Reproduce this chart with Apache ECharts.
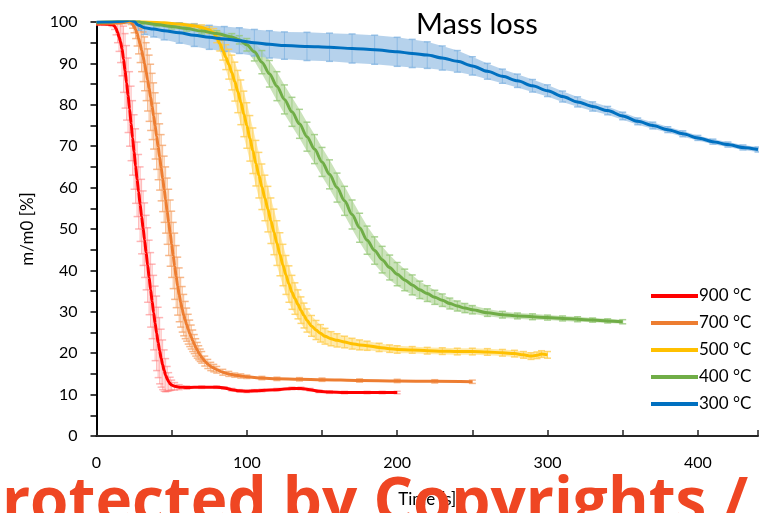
<!DOCTYPE html>
<html>
<head>
<meta charset="utf-8">
<script src="https://cdn.jsdelivr.net/npm/echarts@6/dist/echarts.min.js"></script>
<style>
  html, body { margin: 0; padding: 0; background: #ffffff; }
  #chart { width: 761px; height: 513px; }
</style>
</head>
<body>
<div id="chart"></div>
<script>
// Each entry: [time in s, m/m0 in %, standard deviation in %]
const run900 = [[0,99.5,0.3],[5,99.5,0.3],[10,99.4,0.3],[11,99.3,0.4],[12,99.0,0.8],[13,98.4,1.5],[14,97.5,2.5],[15,96.4,3.5],[16,95.2,5],[17,93.5,6.5],[18,91.0,8],[19,88.2,9],[20,85.3,9],[21,82.3,9],[22,79.0,9],[23,75.5,9],[24,72.0,9],[25,68.6,9],[26,65.2,9],[27,62.0,9],[28,59.0,9],[29,56.0,9],[30,53.0,9],[31,50.2,9],[32,47.3,9],[33,44.3,9],[34,41.3,9],[35,38.3,9],[36,35.3,9],[37,32.5,9],[38,29.8,9],[39,27.2,9],[40,24.8,9],[41,22.6,8.5],[42,20.6,8],[43,18.8,7],[44,17.2,6],[45,15.8,5],[46,14.7,4],[47,13.8,3],[48,13.1,2.2],[49,12.6,1.6],[50,12.3,1.2],[52,12.0,0.9],[55,11.8,0.6],[60,11.7,0.4],[70,11.8,0.3],[80,11.8,0.3],[85,11.6,0.3],[90,11.2,0.3],[95,10.9,0.3],[100,10.8,0.3],[105,10.9,0.3],[110,11.0,0.3],[120,11.2,0.3],[130,11.5,0.3],[136,11.5,0.3],[142,11.2,0.3],[148,10.8,0.3],[155,10.6,0.3],[165,10.5,0.3],[180,10.5,0.3],[190,10.5,0.3],[200,10.5,0.3]];

const run700 = [[0,99.7,0.3],[5,99.7,0.3],[10,99.7,0.3],[15,99.8,0.3],[18,99.9,0.3],[20,100.1,0.3],[22,100.1,0.4],[23,99.9,0.5],[24,99.5,1],[25,98.9,1.5],[26,98.2,2.2],[27,97.2,3],[28,96.0,3.7],[29,94.7,4.5],[30,93.2,5.2],[31,91.6,6],[32,89.9,6.5],[33,88.0,7],[34,86.0,7.5],[35,84.0,8],[36,81.8,8],[37,79.6,8],[38,77.3,8],[39,74.9,8],[40,72.4,8],[41,69.9,8],[42,67.4,8],[43,64.8,8],[44,62.2,8],[45,59.6,8],[46,57.0,8],[47,54.3,8],[48,51.6,8],[49,49.0,8],[50,46.3,8],[51,43.6,8],[52,41.0,8],[53,38.5,7.5],[54,36.2,7],[55,34.1,6.5],[56,32.3,6],[57,30.6,5.5],[58,29.2,5],[59,28.0,4.5],[60,26.9,4],[61,25.8,3.6],[62,24.8,3.2],[63,23.9,2.9],[64,23.0,2.6],[65,22.2,2.3],[66,21.4,2.1],[67,20.7,1.9],[68,20.1,1.7],[69,19.5,1.5],[70,19.0,1.4],[72,18.1,1.2],[74,17.4,1.1],[76,16.8,1.0],[78,16.4,0.9],[80,16.0,0.8],[84,15.4,0.7],[88,15.0,0.6],[92,14.7,0.5],[96,14.5,0.5],[100,14.3,0.4],[110,14.0,0.4],[120,13.8,0.4],[135,13.7,0.4],[150,13.6,0.4],[175,13.4,0.4],[200,13.3,0.4],[225,13.2,0.4],[250,13.1,0.4]];

const run500 = [[0,99.9,0.3],[10,100.0,0.3],[20,100.3,0.3],[25,100.2,0.3],[35,100.0,0.4],[45,99.8,0.4],[55,99.5,0.5],[65,99.1,0.5],[70,98.7,0.6],[75,98.1,0.8],[78,97.4,1.0],[80,96.3,1.3],[82,94.8,1.8],[84,93.2,2.4],[86,91.5,3],[88,89.8,3.6],[90,87.8,4.2],[92,85.6,4.7],[94,83.2,5.1],[96,80.6,5.4],[98,77.8,5.5],[100,75.0,5.5],[102,71.9,5.5],[104,68.9,5.5],[106,65.9,5.5],[108,63.0,5.5],[110,60.2,5.5],[112,57.5,5.5],[114,54.8,5.5],[116,52.0,5.5],[118,49.3,5.5],[120,46.6,5.4],[122,43.9,5.2],[124,41.3,5.0],[126,38.9,4.7],[128,36.7,4.4],[130,34.7,4.1],[132,33.2,3.8],[134,31.8,3.5],[136,30.4,3.2],[138,29.1,3.0],[140,27.9,2.8],[143,26.6,2.5],[146,25.6,2.3],[149,24.8,2.1],[152,24.1,1.9],[156,23.5,1.7],[160,23.1,1.6],[165,22.7,1.4],[170,22.3,1.3],[175,22.0,1.2],[180,21.8,1.1],[188,21.4,1.0],[195,21.1,0.9],[200,20.9,0.9],[210,20.8,0.8],[220,20.6,0.8],[230,20.5,0.8],[240,20.4,0.8],[250,20.4,0.8],[260,20.3,0.8],[270,20.1,0.8],[278,19.9,0.8],[284,19.6,0.8],[289,19.3,0.8],[293,19.5,0.8],[296,19.8,0.8],[300,19.6,0.8]];

const run400 = [[0,99.9,0.4],[10,100.1,0.4],[18,100.4,0.4],[22,100.7,0.4],[26,100.5,0.4],[30,99.9,0.5],[40,99.4,0.5],[50,98.9,0.6],[60,98.4,0.6],[70,97.8,0.7],[80,97.2,0.7],[90,96.4,0.8],[95,95.7,1.0],[100,94.5,1.5],[105,92.8,2.2],[110,90.3,2.8],[115,87.5,3.2],[120,84.5,3.5],[125,81.3,3.5],[130,78.3,3.5],[135,75.4,3.5],[140,72.3,3.5],[145,69.3,3.5],[150,66.2,3.5],[155,63.2,3.5],[160,60.0,3.5],[165,56.8,3.5],[170,53.5,3.5],[175,50.3,3.5],[180,47.3,3.4],[185,44.8,3.3],[190,42.6,3.2],[195,40.7,3.0],[200,39.1,2.8],[205,37.7,2.6],[210,36.5,2.4],[215,35.3,2.1],[220,34.4,1.9],[225,33.5,1.7],[230,32.8,1.5],[235,32.0,1.3],[240,31.4,1.2],[245,30.9,1.1],[250,30.5,1.0],[260,29.8,0.9],[270,29.3,0.8],[280,29.0,0.7],[290,28.8,0.7],[300,28.6,0.6],[310,28.4,0.6],[320,28.2,0.6],[330,28.0,0.5],[340,27.8,0.5],[350,27.6,0.5]];

const run300 = [[0,100.0,0.3],[10,100.0,0.3],[18,100.2,0.4],[22,100.4,0.6],[25,100.1,0.8],[28,99.2,1.2],[32,98.6,1.6],[38,98.3,1.9],[45,97.9,2.2],[55,97.4,2.5],[65,96.8,2.7],[75,96.3,2.9],[85,95.9,3.0],[95,95.5,3.1],[105,95.0,3.2],[115,94.6,3.3],[125,94.3,3.3],[140,94.1,3.4],[155,93.9,3.4],[170,93.6,3.5],[185,93.3,3.5],[200,92.8,3.5],[210,92.4,3.4],[220,92.0,3.2],[230,91.3,2.9],[240,90.5,2.6],[250,89.4,2.2],[260,88.1,1.9],[270,86.9,1.7],[280,85.8,1.6],[290,84.6,1.5],[300,83.4,1.4],[310,82.0,1.3],[320,80.7,1.2],[330,79.6,1.1],[340,78.6,1.0],[350,77.3,0.9],[360,76.0,0.8],[370,75.0,0.8],[380,74.0,0.7],[390,73.0,0.7],[400,72.0,0.6],[410,71.1,0.6],[420,70.4,0.6],[430,69.7,0.6],[440,69.2,0.6]];

const seriesNames = ['900 °C', '700 °C', '500 °C', '400 °C', '300 °C'];
const xTicks = [0, 100, 200, 300, 400];

// Drawing styles per run: line colour, error-bar colour, band fill (null = bars only)
const runs = [
  { name: seriesNames[0], data: run900, line: '#FF0000', bar: 'rgba(255,120,120,0.55)', band: null },
  { name: seriesNames[1], data: run700, line: '#ED7D31', bar: 'rgba(244,160,100,0.75)', band: null },
  { name: seriesNames[2], data: run500, line: '#FFC000', bar: 'rgba(255,205,80,0.8)', band: 'rgba(255,217,102,0.55)' },
  { name: seriesNames[3], data: run400, line: '#70AD47', bar: 'rgba(150,200,120,0.8)', band: 'rgba(169,209,142,0.6)' },
  { name: seriesNames[4], data: run300, line: '#0070C0', bar: 'rgba(130,180,225,0.8)', band: 'rgba(157,195,230,0.75)' }
];

const FONT = 'Lato, "Open Sans", sans-serif';

// Shaded spread between m - sd and m + sd, drawn once per run
function bandSeries(run) {
  return {
    type: 'custom',
    silent: true,
    clip: true,
    z: 1,
    data: run.data,
    encode: { x: 0, y: 1 },
    renderItem: function (params, api) {
      if (params.dataIndex !== 0) return null;
      const upper = run.data.map(d => api.coord([d[0], d[1] + d[2]]));
      const lower = run.data.map(d => api.coord([d[0], d[1] - d[2]])).reverse();
      return {
        type: 'polygon',
        shape: { points: upper.concat(lower) },
        style: { fill: run.band }
      };
    }
  };
}

// Capped vertical error bars at every measurement
function errorBarSeries(run) {
  return {
    type: 'custom',
    silent: true,
    clip: true,
    z: 2,
    data: run.data,
    encode: { x: 0, y: 1 },
    renderItem: function (params, api) {
      const t = api.value(0), m = api.value(1), s = api.value(2);
      const hi = api.coord([t, m + s]);
      const lo = api.coord([t, m - s]);
      const half = 3.5;
      return {
        type: 'group',
        children: [
          { type: 'line', shape: { x1: hi[0], y1: hi[1], x2: lo[0], y2: lo[1] },
            style: { stroke: run.bar, lineWidth: 1 } },
          { type: 'line', shape: { x1: hi[0] - half, y1: hi[1], x2: hi[0] + half, y2: hi[1] },
            style: { stroke: run.bar, lineWidth: 1.5 } },
          { type: 'line', shape: { x1: lo[0] - half, y1: lo[1], x2: lo[0] + half, y2: lo[1] },
            style: { stroke: run.bar, lineWidth: 1.5 } }
        ]
      };
    }
  };
}

function lineSeries(run, idx) {
  return {
    type: 'line',
    name: run.name,
    data: run.data.map(d => [d[0], d[1]]),
    showSymbol: false,
    smooth: 0.3,
    smoothMonotone: 'x',
    z: 3 + idx,
    color: run.line,
    lineStyle: { color: run.line, width: 3 },
    emphasis: { disabled: true }
  };
}

const series = [];
runs.forEach(r => { if (r.band) series.push(bandSeries(r)); });
runs.forEach(r => series.push(errorBarSeries(r)));
runs.forEach((r, i) => series.push(lineSeries(r, i)));

const chart = echarts.init(document.getElementById('chart'), null, { renderer: 'canvas' });
chart.setOption({
  animation: false,
  backgroundColor: '#ffffff',
  title: {
    text: 'Mass loss',
    left: 472,
    top: 5,
    textAlign: 'center',
    textStyle: { fontFamily: FONT, fontSize: 29, fontWeight: 'normal', color: '#000000' }
  },
  legend: {
    orient: 'vertical',
    left: 646,
    top: 282,
    data: seriesNames,
    icon: 'rect',
    itemWidth: 47,
    itemHeight: 4,
    itemGap: 9,
    textStyle: { fontFamily: FONT, fontSize: 17, color: '#000000', lineHeight: 18, padding: [0, 0, 0, -4] },
    selectedMode: false
  },
  grid: { left: 96.5, right: 0, top: 22, bottom: 77, containLabel: false },
  xAxis: {
    type: 'value',
    min: 0,
    max: 440,
    interval: 50,
    name: 'Time [s]',
    nameLocation: 'middle',
    nameGap: 55,
    nameTextStyle: { fontFamily: FONT, fontSize: 17, color: '#000000' },
    axisLine: { show: true, lineStyle: { color: '#262626', width: 2 } },
    axisTick: { show: true, inside: true, length: 6, lineStyle: { color: '#262626', width: 1.5 } },
    axisLabel: {
      margin: 19,
      fontFamily: FONT, fontSize: 16, color: '#000000',
      formatter: v => (xTicks.indexOf(v) >= 0 ? String(v) : '')
    },
    splitLine: { show: false }
  },
  yAxis: {
    type: 'value',
    min: 0,
    max: 100,
    interval: 5,
    name: 'm/m0 [%]',
    nameLocation: 'middle',
    nameGap: 60,
    nameTextStyle: { fontFamily: FONT, fontSize: 17, color: '#000000' },
    axisLine: { show: true, lineStyle: { color: '#000000', width: 2 } },
    axisTick: { show: true, inside: false, length: 6, lineStyle: { color: '#000000', width: 1.5 } },
    axisLabel: {
      margin: 19,
      fontFamily: FONT, fontSize: 16, color: '#000000',
      formatter: v => (v % 10 === 0 ? String(v) : '')
    },
    splitLine: { show: false }
  },
  graphic: [{
    type: 'text',
    x: -37,
    y: 504,
    z: 100,
    silent: true,
    style: {
      text: 'Protected by Copyrights /',
      font: 'bold 62px "Open Sans"',
      fill: '#EF4623',
      verticalAlign: 'middle'
    }
  }],
  series: series
});
</script>
</body>
</html>
